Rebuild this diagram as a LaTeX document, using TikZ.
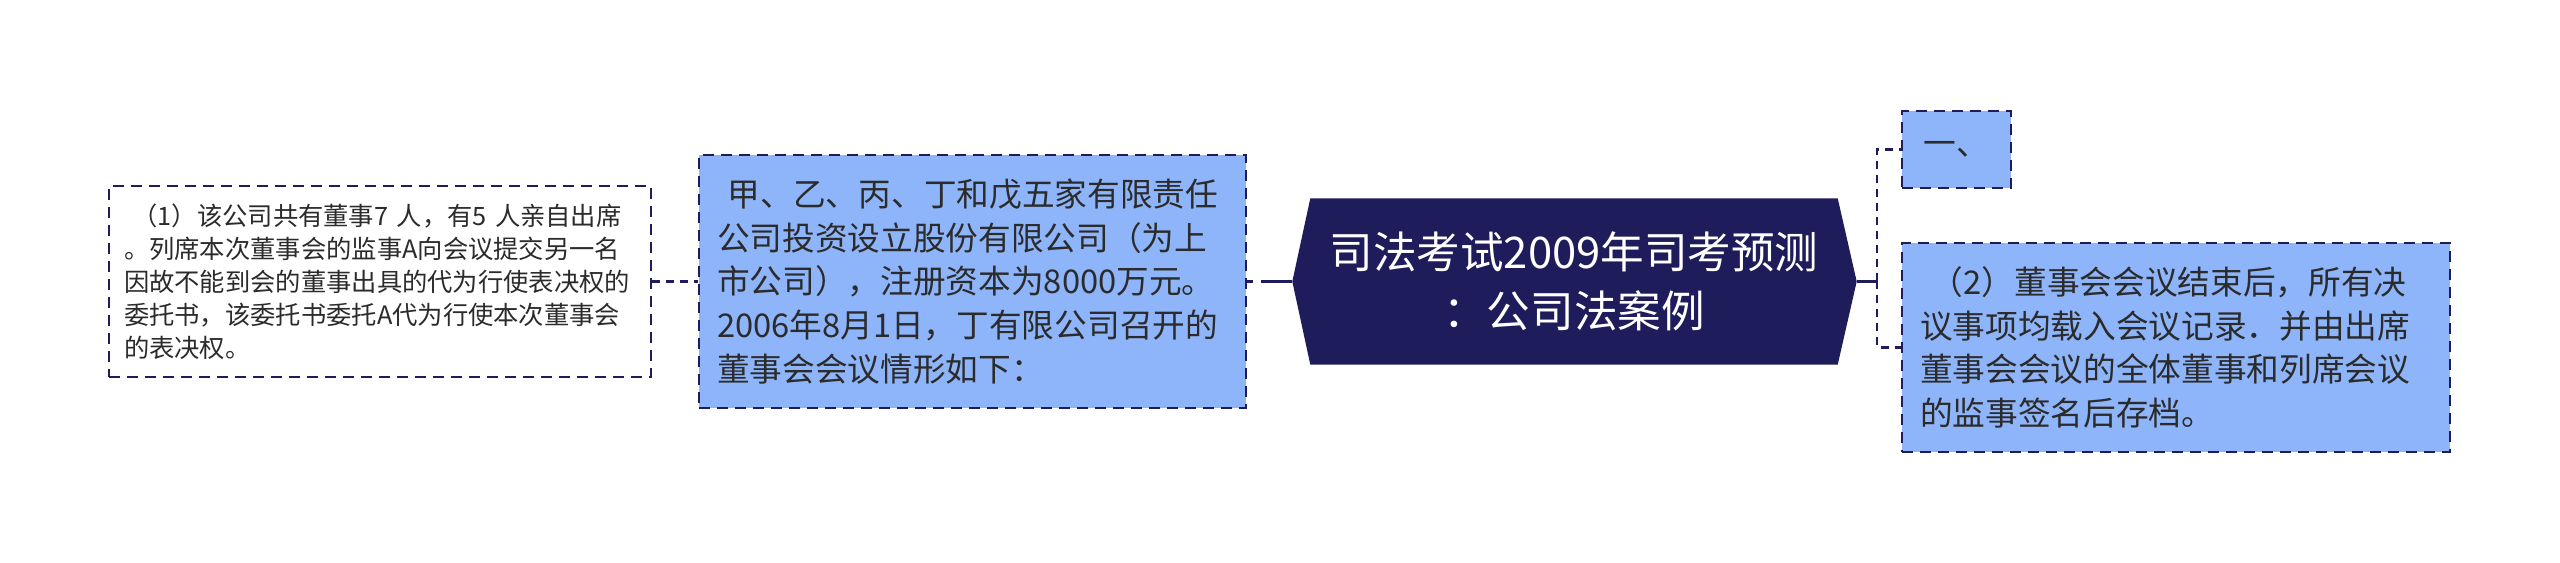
\documentclass[tikz,border=0pt]{standalone}
\usepackage{fontspec}
\newfontfamily\cjk{Noto Sans CJK SC}
\usetikzlibrary{backgrounds}
\definecolor{hexnavy}{RGB}{30,28,90}
\definecolor{leafblue}{RGB}{142,180,250}
\definecolor{leaftext}{RGB}{43,43,43}
\tikzset{
  linkline/.style={draw=hexnavy, line width=0.028cm, dash pattern=on 0.08cm off 0.06cm},
  boxline/.style={draw=hexnavy, line width=0.020cm, dash pattern=on 0.11cm off 0.07cm},
  smalltext/.style={font=\cjk\fontsize{7.2pt}{9.4pt}\selectfont, text=leaftext},
  leaftxt/.style={font=\cjk\fontsize{9.3pt}{12.4pt}\selectfont, text=leaftext},
  leafbox/.style={boxline, fill=leafblue, leaftxt, align=left, inner ysep=0pt}
}
\begin{document}
\begin{tikzpicture}
                \useasboundingbox (0,0) rectangle (25.600000,5.630000);%

                % Drawing title T
                \node [inner sep=0pt, minimum width=5.260000cm, minimum height=1.650000cm, align=center, text=white,
                       font=\cjk\fontsize{12.4pt}{16.6pt}\selectfont] (T) at (15.740000,2.815000)
                      {司法考试2009年司考预测\\：公司法案例};%
                \coordinate (Tl) at ([xshift=-0.180000cm]T.west);%
                \coordinate (Tr) at ([xshift=0.190000cm]T.east);%
                \begin{scope}[on background layer]
                \fill [hexnavy] (Tl) -- (T.north west) -- (T.north east) -- (Tr) -- (T.south east) -- (T.south west) -- cycle;%
                \end{scope}

                % Drawing leaf L2
                \node [leafbox, inner xsep=0.180000cm, text width=5.110000cm, minimum height=2.530000cm] (L2) at (9.725000,2.815000)
                      {\ 甲、乙、丙、丁和戊五家有限责任\\公司投资设立股份有限公司（为上\\市公司），注册资本为8000万元。\\2006年8月1日，丁有限公司召开的\\董事会会议情形如下：};%

                % Drawing leaf L1
                \node [boxline, fill=white, smalltext, align=left, inner xsep=0.150000cm, inner ysep=0pt, text width=5.120000cm,
                       minimum height=1.910000cm] (L1) at (3.800000,2.815000)
                      {\ （1）该公司共有董事7 人，有5 人亲自出席\\。列席本次董事会的监事A向会议提交另一名\\因故不能到会的董事出具的代为行使表决权的\\委托书，该委托书委托A代为行使本次董事会\\的表决权。};%

                % Drawing leaf R1
                \node [leafbox, align=center, inner xsep=0pt, minimum width=1.090000cm, minimum height=0.770000cm] (R1) at (19.565000,4.135000)
                      {一、};%

                % Drawing leaf R2
                \node [leafbox, inner xsep=0.180000cm, text width=5.120000cm, minimum height=2.090000cm] (R2) at (21.760000,2.155000)
                      {\ （2）董事会会议结束后，所有决\\议事项均载入会议记录．并由出席\\董事会会议的全体董事和列席会议\\的监事签名后存档。};%

                % Drawing links
                \coordinate (J) at (18.770000,2.815000);%
                \draw [linkline] (L1.east) -- (L2.west);%
                \draw [linkline, dash pattern=on 0.06cm off 0.08cm on 0.34cm off 0.1cm] (L2.east) -- (Tl);%
                \draw [draw=hexnavy, line width=0.028cm] (Tr) -- (J);%
                \draw [linkline] (J) |- (R1.west);%
                \draw [linkline] (J) |- (R2.west);%
\end{tikzpicture}
\end{document}
